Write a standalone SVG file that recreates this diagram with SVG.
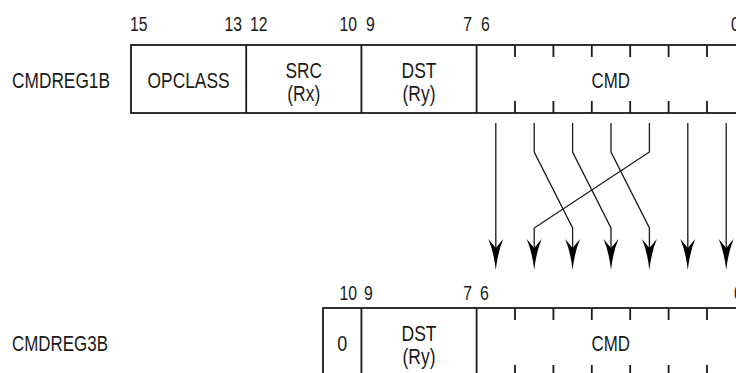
<svg xmlns="http://www.w3.org/2000/svg" xmlns:xlink="http://www.w3.org/1999/xlink" width="736" height="373" viewBox="0 0 736 373">
<defs>
<style>
text{font-family:"Liberation Sans",Arial,sans-serif;fill:#1a1a1a}
.lbl{font-size:22px}
.num{font-size:20.5px}
.c{text-anchor:middle}
.e{text-anchor:end}
.box{fill:#fff;stroke:#1a1a1a;stroke-width:1.8}
.tick{stroke:#1a1a1a;stroke-width:1.8;fill:none}
.arr{fill:none;stroke:#1a1a1a;stroke-width:1.3}
.head{fill:#000;stroke:none}
</style>
<path id="ah" d="M0,270Q-2.2,251 -7.5,239L0,248L7.5,239Q2.2,251 0,270Z"/>
</defs>
<g id="reg1">
<text class="lbl" x="12" y="88" textLength="98" lengthAdjust="spacingAndGlyphs">CMDREG1B</text>
<rect class="box" x="131" y="45" width="630" height="68"/>
<line class="tick" x1="246.2" y1="45" x2="246.2" y2="113"/>
<line class="tick" x1="361.4" y1="45" x2="361.4" y2="113"/>
<line class="tick" x1="476.6" y1="45" x2="476.6" y2="113"/>
<path class="tick" d="M515,45v12M553.4,45v12M591.8,45v12M630.2,45v12M668.6,45v12M707,45v12M515,101v12M553.4,101v12M591.8,101v12M630.2,101v12M668.6,101v12M707,101v12"/>
<text class="num" x="130" y="31" textLength="17.5" lengthAdjust="spacingAndGlyphs">15</text>
<text class="num e" x="242" y="31" textLength="17.5" lengthAdjust="spacingAndGlyphs">13</text>
<text class="num" x="250" y="31" textLength="17.5" lengthAdjust="spacingAndGlyphs">12</text>
<text class="num e" x="357" y="31" textLength="17.5" lengthAdjust="spacingAndGlyphs">10</text>
<text class="num" x="366" y="31" textLength="8.8" lengthAdjust="spacingAndGlyphs">9</text>
<text class="num e" x="472" y="31" textLength="8.8" lengthAdjust="spacingAndGlyphs">7</text>
<text class="num" x="481" y="31" textLength="8.8" lengthAdjust="spacingAndGlyphs">6</text>
<text class="num" x="731" y="31" textLength="8.8" lengthAdjust="spacingAndGlyphs">0</text>
<text class="lbl c" x="188.6" y="88" textLength="82" lengthAdjust="spacingAndGlyphs">OPCLASS</text>
<text class="lbl c" x="303.8" y="78" textLength="36.5" lengthAdjust="spacingAndGlyphs">SRC</text>
<text class="lbl c" x="303.8" y="101" textLength="33" lengthAdjust="spacingAndGlyphs">(Rx)</text>
<text class="lbl c" x="419" y="78" textLength="35" lengthAdjust="spacingAndGlyphs">DST</text>
<text class="lbl c" x="419" y="101" textLength="33" lengthAdjust="spacingAndGlyphs">(Ry)</text>
<text class="lbl c" x="610.8" y="88" textLength="38.5" lengthAdjust="spacingAndGlyphs">CMD</text>
</g>
<g id="reg3">
<text class="lbl" x="12" y="351" textLength="96" lengthAdjust="spacingAndGlyphs">CMDREG3B</text>
<rect class="box" x="323" y="308" width="438" height="68"/>
<line class="tick" x1="361.4" y1="308" x2="361.4" y2="376"/>
<line class="tick" x1="476.6" y1="308" x2="476.6" y2="376"/>
<path class="tick" d="M515,308v12M553.4,308v12M591.8,308v12M630.2,308v12M668.6,308v12M707,308v12M515,365v12M553.4,365v12M591.8,365v12M630.2,365v12M668.6,365v12M707,365v12"/>
<text class="num e" x="357" y="300" textLength="17.5" lengthAdjust="spacingAndGlyphs">10</text>
<text class="num" x="364" y="300" textLength="8.8" lengthAdjust="spacingAndGlyphs">9</text>
<text class="num e" x="472" y="300" textLength="8.8" lengthAdjust="spacingAndGlyphs">7</text>
<text class="num" x="480" y="300" textLength="8.8" lengthAdjust="spacingAndGlyphs">6</text>
<text class="num" x="734" y="300" textLength="8.8" lengthAdjust="spacingAndGlyphs">0</text>
<text class="lbl c" x="342.2" y="351" textLength="10" lengthAdjust="spacingAndGlyphs">0</text>
<text class="lbl c" x="419" y="341" textLength="35" lengthAdjust="spacingAndGlyphs">DST</text>
<text class="lbl c" x="419" y="364" textLength="33" lengthAdjust="spacingAndGlyphs">(Ry)</text>
<text class="lbl c" x="610.8" y="351" textLength="38.5" lengthAdjust="spacingAndGlyphs">CMD</text>
</g>
<g id="connectors">
<path class="arr" d="M495.8,123V248"/>
<path class="arr" d="M534.2,123V152L572.6,228V248"/>
<path class="arr" d="M572.6,123V152L611,228V248"/>
<path class="arr" d="M611,123V152L649.4,228V248"/>
<path class="arr" d="M649.4,123V152L534.2,228V248"/>
<path class="arr" d="M687.8,123V248"/>
<path class="arr" d="M726.2,123V248"/>
<g class="head">
<use xlink:href="#ah" x="495.8"/>
<use xlink:href="#ah" x="534.2"/>
<use xlink:href="#ah" x="572.6"/>
<use xlink:href="#ah" x="611"/>
<use xlink:href="#ah" x="649.4"/>
<use xlink:href="#ah" x="687.8"/>
<use xlink:href="#ah" x="726.2"/>
</g>
</g>
</svg>
